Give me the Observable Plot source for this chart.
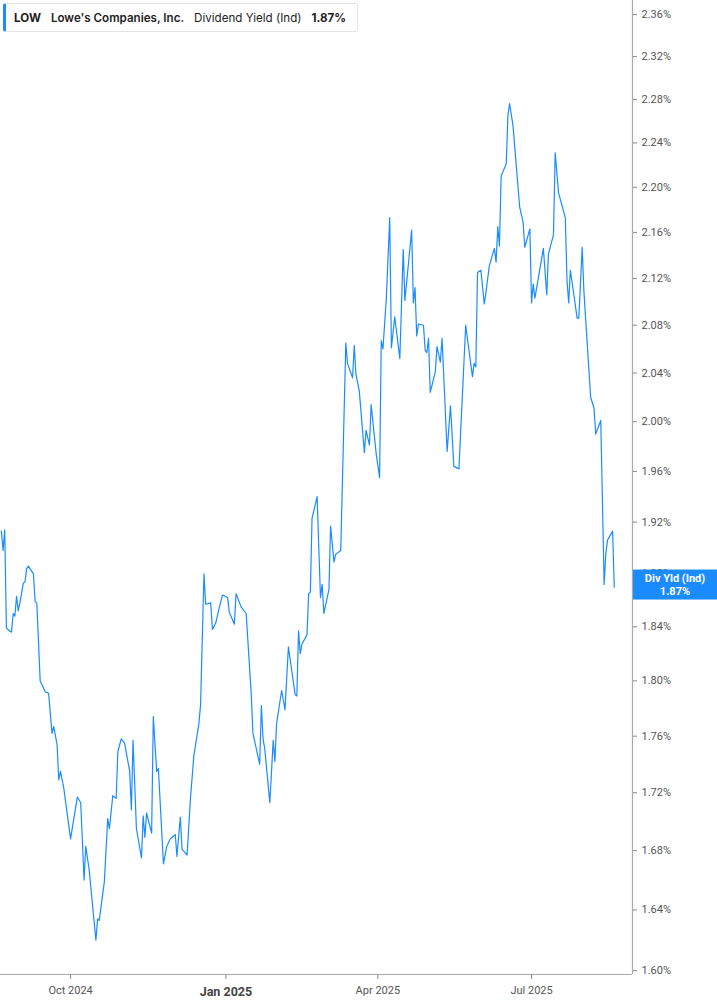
<!DOCTYPE html>
<html><head><meta charset="utf-8">
<script src="https://cdn.jsdelivr.net/npm/d3@7"></script>
<script src="https://cdn.jsdelivr.net/npm/@observablehq/plot@0.6"></script>
<style>
html,body{margin:0;padding:0;background:#fff;}
#wrap{position:relative;width:717px;height:1005px;overflow:hidden;}
#hdr{position:absolute;left:3px;top:3px;height:29px;width:355px;box-sizing:border-box;border:1px solid #e4e4e4;border-left:3px solid #1a8cff;border-radius:3px;background:#fff;font-family:Inter, "Noto Sans", sans-serif;font-size:11.6px;color:#1d1d1d;display:flex;align-items:center;padding-left:8px;white-space:nowrap;}
#hdr .s{margin-left:10px;}
</style></head><body>
<div id="wrap"><div id="chart"></div>
<div id="hdr"><b>LOW</b><span class="s" style="font-weight:600">Lowe's Companies, Inc.</span><span class="s">Dividend Yield (Ind)</span><b class="s">1.87%</b></div>
</div>
<script>
const dates = [
"2024-08-21","2024-08-22","2024-08-23","2024-08-24","2024-08-27","2024-08-28","2024-08-29","2024-08-30","2024-08-31","2024-09-01",
"2024-09-03","2024-09-04","2024-09-05","2024-09-06","2024-09-09","2024-09-10","2024-09-11","2024-09-13","2024-09-16","2024-09-18",
"2024-09-20","2024-09-21","2024-09-23","2024-09-24","2024-09-25","2024-09-27","2024-10-01","2024-10-05","2024-10-07","2024-10-09",
"2024-10-10","2024-10-12","2024-10-16","2024-10-17","2024-10-18","2024-10-21","2024-10-23","2024-10-24","2024-10-26","2024-10-28",
"2024-10-29","2024-10-31","2024-11-02","2024-11-05","2024-11-06","2024-11-07","2024-11-09","2024-11-12","2024-11-13","2024-11-14",
"2024-11-15","2024-11-18","2024-11-19","2024-11-21","2024-11-22","2024-11-25","2024-11-27","2024-11-29","2024-12-02","2024-12-03",
"2024-12-05","2024-12-06","2024-12-09","2024-12-11","2024-12-13","2024-12-16","2024-12-17","2024-12-19","2024-12-20","2024-12-23",
"2024-12-24","2024-12-26","2024-12-28","2024-12-30","2025-01-02","2025-01-03","2025-01-06","2025-01-07","2025-01-10","2025-01-13",
"2025-01-16","2025-01-17","2025-01-21","2025-01-22","2025-01-23","2025-01-24","2025-01-27","2025-01-29","2025-01-30","2025-01-31",
"2025-02-03","2025-02-05","2025-02-07","2025-02-11","2025-02-12","2025-02-13","2025-02-14","2025-02-15","2025-02-18","2025-02-19",
"2025-02-20","2025-02-21","2025-02-24","2025-02-26","2025-02-27","2025-02-28","2025-03-03","2025-03-04","2025-03-06","2025-03-07",
"2025-03-10","2025-03-13","2025-03-14","2025-03-17","2025-03-18","2025-03-19","2025-03-21","2025-03-24","2025-03-25","2025-03-27",
"2025-03-28","2025-03-31","2025-04-02","2025-04-03","2025-04-04","2025-04-06","2025-04-08","2025-04-09","2025-04-11","2025-04-14",
"2025-04-16","2025-04-17","2025-04-21","2025-04-22","2025-04-23","2025-04-24","2025-04-25","2025-04-28","2025-04-29","2025-04-30",
"2025-05-01","2025-05-02","2025-05-05","2025-05-06","2025-05-08","2025-05-09","2025-05-12","2025-05-14","2025-05-16","2025-05-19",
"2025-05-23","2025-05-27","2025-05-28","2025-05-29","2025-05-30","2025-06-01","2025-06-03","2025-06-04","2025-06-06","2025-06-09",
"2025-06-10","2025-06-11","2025-06-12","2025-06-13","2025-06-16","2025-06-17","2025-06-18","2025-06-20","2025-06-24","2025-06-26",
"2025-06-27","2025-06-30","2025-07-01","2025-07-02","2025-07-03","2025-07-08","2025-07-10","2025-07-11","2025-07-14","2025-07-15",
"2025-07-17","2025-07-21","2025-07-22","2025-07-23","2025-07-24","2025-07-28","2025-07-29","2025-07-31","2025-08-01","2025-08-05",
"2025-08-07","2025-08-08","2025-08-11","2025-08-13","2025-08-14","2025-08-15","2025-08-18","2025-08-19"
];
const yields = [
1.913,1.898,1.914,1.839,1.836,1.850,1.848,1.863,1.852,1.858,
1.873,1.874,1.884,1.886,1.880,1.859,1.858,1.800,1.792,1.791,
1.762,1.767,1.754,1.729,1.735,1.723,1.688,1.717,1.713,1.660,
1.683,1.667,1.620,1.634,1.633,1.659,1.702,1.695,1.718,1.716,
1.749,1.758,1.755,1.735,1.708,1.757,1.695,1.675,1.704,1.689,
1.706,1.692,1.774,1.735,1.737,1.671,1.683,1.688,1.691,1.676,
1.703,1.681,1.677,1.716,1.746,1.769,1.783,1.880,1.857,1.858,
1.838,1.843,1.854,1.864,1.862,1.851,1.842,1.865,1.855,1.850,
1.790,1.762,1.740,1.782,1.758,1.751,1.713,1.757,1.742,1.769,
1.793,1.779,1.825,1.790,1.789,1.837,1.820,1.827,1.834,1.865,
1.866,1.923,1.940,1.862,1.872,1.850,1.868,1.917,1.889,1.895,
1.898,2.065,2.048,2.036,2.063,2.039,2.025,1.975,1.993,1.981,
2.014,1.974,1.955,2.067,2.060,2.103,2.173,2.061,2.087,2.052,
2.145,2.101,2.162,2.099,2.112,2.071,2.081,2.080,2.059,2.057,
2.069,2.024,2.041,2.062,2.049,2.069,1.976,2.013,1.964,1.962,
2.080,2.037,2.048,2.045,2.125,2.127,2.098,2.108,2.131,2.146,
2.134,2.165,2.148,2.210,2.221,2.265,2.276,2.256,2.182,2.169,
2.147,2.163,2.099,2.115,2.103,2.146,2.106,2.141,2.158,2.231,
2.195,2.173,2.118,2.099,2.127,2.086,2.086,2.147,2.109,2.020,
2.011,1.990,2.001,1.872,1.896,1.906,1.913,1.870
];
const yTicks = [1.60,1.64,1.68,1.72,1.76,1.80,1.84,1.88,1.92,1.96,2.00,2.04,2.08,2.12,2.16,2.20,2.24,2.28,2.32,2.36];
const xTickDates = ["2024-10-01","2025-04-01","2025-07-01"];
const xTickLabels = ["Oct 2024","Apr 2025","Jul 2025"];
const yearTickDates = ["2025-01-01"];
const yearTickLabels = ["Jan 2025"];
const xDomainDates = ["2024-08-20T12:00:00Z","2025-08-29T19:00:00Z"];
const yDomainValues = [1.5975, 2.3735];
const lastLabel = ["Div Yld (Ind)", "1.87%"];

const toDate = s => new Date(s.length === 10 ? s + "T00:00:00Z" : s);
const data = dates.map((d, i) => ({date: toDate(d), value: yields[i]}));
const xDomain = xDomainDates.map(toDate);
const xt = xTickDates.map(toDate);
const yt = yearTickDates.map(toDate);
const fmtX = d => xTickLabels[xt.findIndex(t => +t === +d)];
const fmtYear = d => yearTickLabels[yt.findIndex(t => +t === +d)];

const blue = "#1a8cff";
const chart = Plot.plot({
  width: 717, height: 1005,
  marginLeft: 0, marginRight: 85, marginTop: 0, marginBottom: 31,
  style: {fontFamily: "Roboto, 'Liberation Sans', sans-serif", fontSize: "11px", color: "#555", background: "transparent"},
  x: {type: "utc", domain: xDomain, label: null},
  y: {type: "log", domain: yDomainValues, label: null},
  marks: [
    Plot.ruleY([yDomainValues[0]], {stroke: "#aaa", strokeWidth: 1.2}),
    Plot.ruleX([xDomain[1]], {stroke: "#aaa", strokeWidth: 1.2}),
    Plot.axisY(yTicks, {anchor: "right", label: null, tickSize: 4, tickPadding: 5, stroke: "#888", fill: "#555", fontSize: 11,
      tickFormat: d => d.toFixed(2) + "%"}),
    Plot.axisX(xt, {anchor: "bottom", label: null, tickSize: 5, tickPadding: 7, stroke: "#888", fill: "#555", fontSize: 11, tickFormat: fmtX}),
    Plot.axisX(yt, {anchor: "bottom", label: null, tickSize: 5, tickPadding: 8, stroke: "#888", fill: "#444", fontSize: 12.5, fontWeight: "bold", tickFormat: fmtYear}),
    Plot.line(data, {x: "date", y: "value", stroke: blue, strokeWidth: 1.2})
  ]
});
document.getElementById("chart").appendChild(chart);

// last-value badge positioned through the plot's scales (covers the tick label beneath it, as in the reference)
const last = yields[yields.length - 1];
const by = chart.scale("y").apply(last) - 2;
const bx = chart.scale("x").apply(xDomain[1]);
const svg = d3.select(chart);
const g = svg.append("g");
g.append("rect").attr("x", bx + 1).attr("y", by - 15).attr("width", 717 - bx).attr("height", 30).attr("fill", blue);
g.append("text").attr("x", bx + 43).attr("y", by - 3).attr("text-anchor", "middle")
  .attr("fill", "#fff").attr("font-weight", "bold").attr("font-size", 11).attr("font-family", "Roboto, sans-serif").text(lastLabel[0]);
g.append("text").attr("x", bx + 43).attr("y", by + 10).attr("text-anchor", "middle")
  .attr("fill", "#fff").attr("font-weight", "bold").attr("font-size", 11).attr("font-family", "Roboto, sans-serif").text(lastLabel[1]);
</script>
</body></html>
